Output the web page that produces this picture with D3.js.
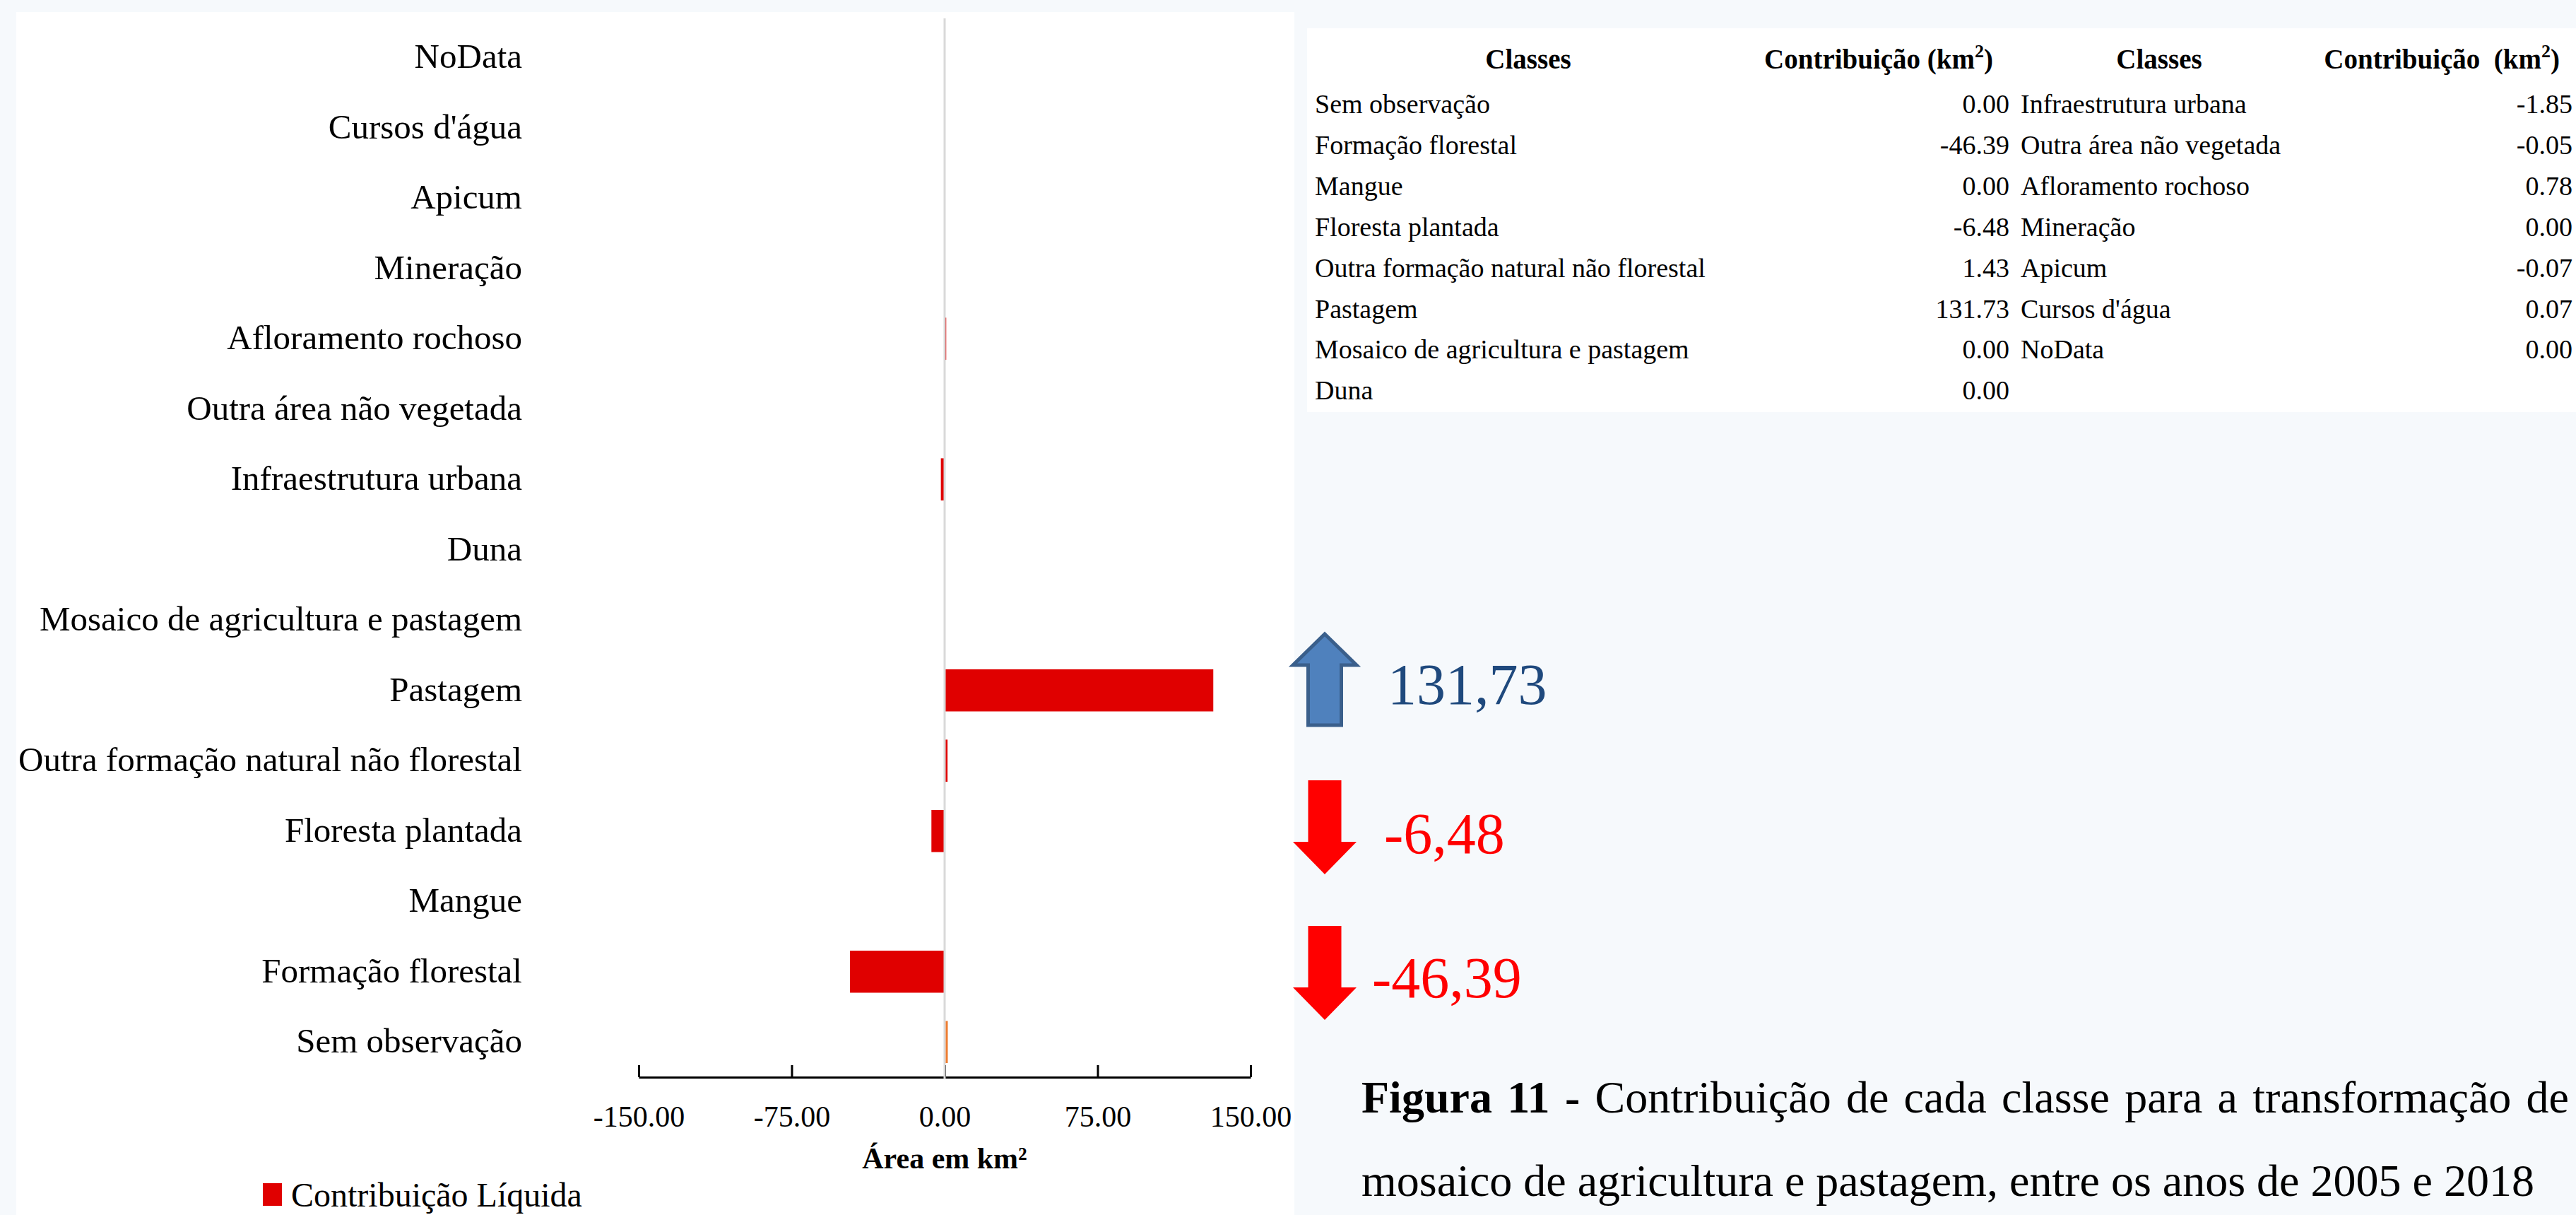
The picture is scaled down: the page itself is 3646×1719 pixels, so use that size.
<!DOCTYPE html>
<html>
<head>
<meta charset="utf-8">
<script src="https://cdn.jsdelivr.net/npm/d3@7"></script>
<style>
  html, body { margin: 0; padding: 0; background: #f6f9fc; }
  svg { display: block; font-family: "Liberation Serif", "Times New Roman", serif; }
  text { white-space: pre; }
</style>
</head>
<body>
<svg id="fig" width="3646" height="1719"></svg>
<script>
// Land-cover classes, listed top to bottom as they appear on the bar chart
const categories = [
  "NoData", "Cursos d'água", "Apicum", "Mineração", "Afloramento rochoso",
  "Outra área não vegetada", "Infraestrutura urbana", "Duna",
  "Mosaico de agricultura e pastagem", "Pastagem",
  "Outra formação natural não florestal", "Floresta plantada", "Mangue",
  "Formação florestal", "Sem observação"
];
// Net contribution (km²) of each class
const values = [
  0.00, 0.07, -0.07, 0.00, 0.78,
  -0.05, -1.85, 0.00,
  0.00, 131.73,
  1.43, -6.48, 0.00,
  -46.39, 0.00
];
// Points drawn as an outlined marker instead of a filled bar
const outlinedPoints = ["Sem observação"];

const tickValues = [-150, -75, 0, 75, 150];
const tickLabels = ["-150.00", "-75.00", "0.00", "75.00", "150.00"];
const axisTitle = "Área em km²";
const seriesName = "Contribuição Líquida";

// Summary table: two pairs of columns
const tableHeaderClass = "Classes";
const tableHeaderValue = ["Contribuição (km", "Contribuição  (km"];
const tableRowsFirstColumn = 8;

// Classes called out next to the chart
const highlighted = ["Pastagem", "Floresta plantada", "Formação florestal"];

const captionBold = "Figura 11 -";
const captionLine1 = " Contribuição de cada classe para a transformação de";
const captionLine2 = "mosaico de agricultura e pastagem, entre os anos de 2005 e 2018";

const svg = d3.select("#fig");
const valueOf = new Map(categories.map((c, i) => [c, values[i]]));

// ---------- panels ----------
svg.append("rect").attr("x", 23).attr("y", 17).attr("width", 1809).attr("height", 1702).attr("fill", "#ffffff");
svg.append("rect").attr("x", 1850).attr("y", 40).attr("width", 1796).attr("height", 543).attr("fill", "#ffffff");

// ---------- bar chart ----------
const x = d3.scaleLinear().domain([-150, 150]).range([904, 1770]);
const y = d3.scaleBand().domain(categories).range([31.5, 1524]).paddingInner(0.4).paddingOuter(0.2);

const chart = svg.append("g");

// Category labels
chart.append("g").selectAll("text").data(categories).join("text")
  .attr("x", 739)
  .attr("y", d => y(d) + y.bandwidth() / 2)
  .attr("dy", "0.31em")
  .attr("text-anchor", "end")
  .attr("font-size", 49)
  .attr("fill", "#000")
  .text(d => d);

// Bars
chart.append("g").selectAll("path").data(categories.filter(c => !outlinedPoints.includes(c))).join("path")
  .attr("d", d => {
    const x0 = x(0), x1 = x(valueOf.get(d));
    const y0 = y(d), y1 = y(d) + y.bandwidth();
    return `M${x0},${y0}H${x1}V${y1}H${x0}Z`;
  })
  .attr("fill", "#e00000");

// Axis (ticks point upward, labels below)
const axis = d3.axisBottom(x)
  .tickValues(tickValues)
  .tickFormat((d, i) => tickLabels[i])
  .tickSizeInner(-17)
  .tickSizeOuter(0);
const axisG = chart.append("g").attr("transform", "translate(0,1524)").call(axis);
axisG.select(".domain").attr("stroke", "#000").attr("stroke-width", 3);
axisG.selectAll(".tick line").attr("stroke", "#000").attr("stroke-width", 3);
axisG.selectAll(".tick text")
  .attr("y", 70).attr("dy", null)
  .attr("font-family", "Liberation Serif")
  .attr("font-size", 42)
  .attr("fill", "#000");

// Zero line
chart.append("line")
  .attr("x1", x(0)).attr("x2", x(0))
  .attr("y1", 26).attr("y2", 1527)
  .attr("stroke", "#d9d9d9").attr("stroke-width", 3);

// Outlined zero-value marker
chart.append("g").selectAll("path").data(categories.filter(c => outlinedPoints.includes(c))).join("path")
  .attr("d", d => {
    const x0 = x(0) + 3, x1 = x(valueOf.get(d)) + 3;
    const y0 = y(d), y1 = y(d) + y.bandwidth();
    return `M${x0},${y0}H${x1}V${y1}H${x0}Z`;
  })
  .attr("fill", "none")
  .attr("stroke", "#ed7d31")
  .attr("stroke-width", 3);

// Axis title
chart.append("text")
  .attr("x", x(0)).attr("y", 1653)
  .attr("text-anchor", "middle")
  .attr("font-size", 42).attr("font-weight", "bold")
  .attr("fill", "#000")
  .text(axisTitle);

// Legend
chart.append("rect").attr("x", 372).attr("y", 1674).attr("width", 27).attr("height", 32).attr("fill", "#e00000");
chart.append("text").attr("x", 412).attr("y", 1707)
  .attr("font-size", 48).attr("fill", "#000").text(seriesName);

// ---------- summary table ----------
const tableOrder = categories.slice().reverse();
const colA = tableOrder.slice(0, tableRowsFirstColumn);
const colB = tableOrder.slice(tableRowsFirstColumn);
const table = svg.append("g").attr("font-size", 38).attr("fill", "#000");
const rowY = i => 160 + i * 57.9;
const fmtTable = v => v.toFixed(2);

[2163, 3056].forEach(cx => {
  table.append("text").attr("x", cx).attr("y", 97)
    .attr("text-anchor", "middle").attr("font-weight", "bold").attr("font-size", 39)
    .text(tableHeaderClass);
});
[[2821, tableHeaderValue[0]], [3623, tableHeaderValue[1]]].forEach(([xr, label]) => {
  const t = table.append("text").attr("x", xr).attr("y", 97)
    .attr("text-anchor", "end").attr("font-weight", "bold").attr("font-size", 39);
  t.append("tspan").text(label);
  t.append("tspan").attr("dy", -16).attr("font-size", 26).text("2");
  t.append("tspan").attr("dy", 16).text(")");
});

table.append("g").selectAll("text").data(colA).join("text")
  .attr("x", 1861).attr("y", (d, i) => rowY(i)).text(d => d);
table.append("g").selectAll("text").data(colA).join("text")
  .attr("x", 2844).attr("y", (d, i) => rowY(i)).attr("text-anchor", "end")
  .text(d => fmtTable(valueOf.get(d)));
table.append("g").selectAll("text").data(colB).join("text")
  .attr("x", 2860).attr("y", (d, i) => rowY(i)).text(d => d);
table.append("g").selectAll("text").data(colB).join("text")
  .attr("x", 3641).attr("y", (d, i) => rowY(i)).attr("text-anchor", "end")
  .text(d => fmtTable(valueOf.get(d)));

// ---------- call-outs ----------
const fmtComma = v => v.toFixed(2).replace(".", ",");
const callouts = svg.append("g");
const arrowCx = 1875, headHalf = 45, shaftHalf = 23.5;

function upArrow(top, headBase, bottom) {
  return `M${arrowCx},${top}L${arrowCx + headHalf},${headBase}H${arrowCx + shaftHalf}V${bottom}` +
         `H${arrowCx - shaftHalf}V${headBase}H${arrowCx - headHalf}Z`;
}
function downArrow(top, headBase, tip) {
  return `M${arrowCx - shaftHalf},${top}H${arrowCx + shaftHalf}V${headBase}H${arrowCx + headHalf}` +
         `L${arrowCx},${tip}L${arrowCx - headHalf},${headBase}H${arrowCx - shaftHalf}Z`;
}

const calloutSpecs = [
  { cls: highlighted[0], d: upArrow(897, 941, 1026), fill: "#4f81bd", stroke: "#3a5f8b", text: "#1f497d", tx: 1964, ty: 996 },
  { cls: highlighted[1], d: downArrow(1104, 1191, 1237), fill: "#ff0000", stroke: "none", text: "#ff0000", tx: 1959, ty: 1207 },
  { cls: highlighted[2], d: downArrow(1310, 1397, 1443), fill: "#ff0000", stroke: "none", text: "#ff0000", tx: 1942, ty: 1411 }
];
calloutSpecs.forEach(s => {
  callouts.append("path").attr("d", s.d).attr("fill", s.fill)
    .attr("stroke", s.stroke).attr("stroke-width", 5).attr("stroke-linejoin", "miter");
  callouts.append("text").attr("x", s.tx).attr("y", s.ty)
    .attr("font-size", 82).attr("fill", s.text)
    .text(fmtComma(valueOf.get(s.cls)));
});

// ---------- caption ----------
const cap = svg.append("g").attr("font-size", 64).attr("fill", "#000");
const line1 = cap.append("text").attr("x", 1927).attr("y", 1574);
line1.append("tspan").attr("font-weight", "bold").text(captionBold);
line1.append("tspan").text(captionLine1);
cap.append("text").attr("x", 1927).attr("y", 1692).text(captionLine2);

// justify the first caption line to the right margin
const target = 3636 - 1927;
const natural = line1.node().getComputedTextLength();
const spaces = (captionBold + captionLine1).split(" ").length - 1;
if (natural < target) line1.attr("word-spacing", (target - natural) / spaces);
</script>
</body>
</html>
